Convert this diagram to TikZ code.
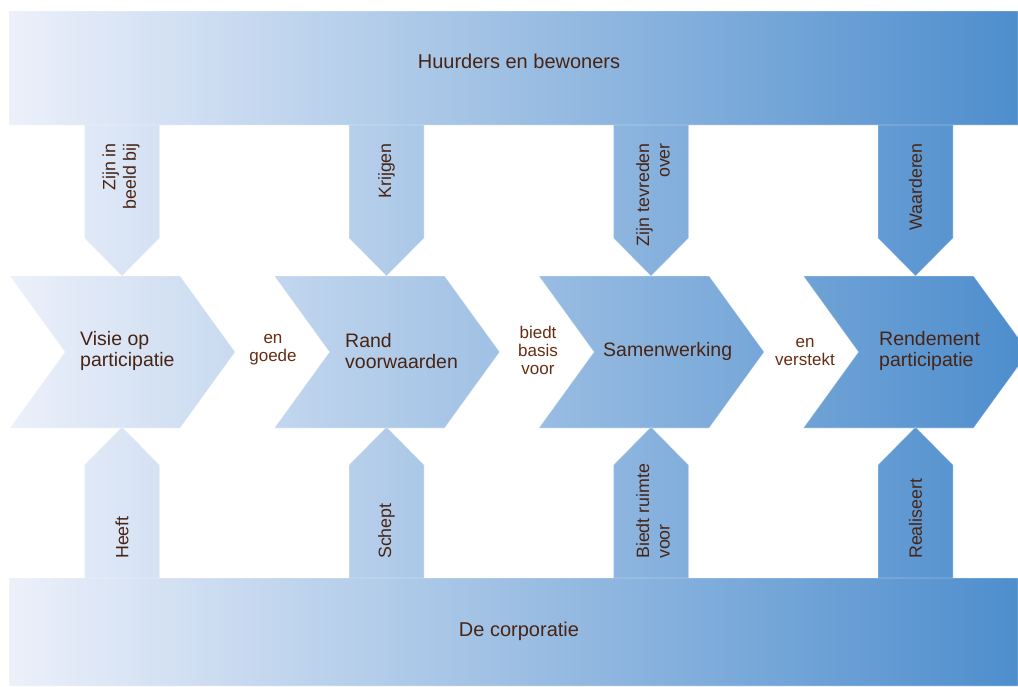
\documentclass[tikz,border=0pt]{standalone}
\usepackage{fontspec}
\setmainfont{Liberation Sans}
\definecolor{gl}{RGB}{236,240,250}
\definecolor{gr}{RGB}{78,142,205}
\definecolor{titlebrown}{RGB}{72,36,20}
\definecolor{linkbrown}{RGB}{104,44,18}
\begin{document}
\begin{tikzpicture}[x=1pt,y=-1pt,
  bannertext/.style={font=\fontsize{20}{22}\selectfont, text=titlebrown, inner sep=0pt},
  chevtitle/.style={font=\fontsize{19.5}{21}\selectfont, text=titlebrown, align=left, anchor=west, inner sep=0pt},
  linktext/.style={font=\fontsize{17}{18}\selectfont, text=linkbrown, align=center, inner sep=0pt},
  downlabel/.style={font=\fontsize{17.8}{20.5}\selectfont, text=titlebrown, rotate=90, align=right, anchor=east, inner sep=0pt},
  uplabel/.style={font=\fontsize{17.8}{20.5}\selectfont, text=titlebrown, rotate=90, align=left, anchor=west, inner sep=0pt},
  edgeline/.style={draw=white, draw opacity=0.35, line width=0.6pt}
]
\useasboundingbox (0,0) rectangle (1018,686);
\begin{scope}
\path[clip] (9,11) rectangle (1018,125) (9,578) rectangle (1018,686)
  \foreach \L in {10,274.5,539,803.5} {
    (\L,276) -- ++(170,0) -- ++(55,76) -- ++(-55,76) -- ++(-170,0) -- ++(55,-76) -- cycle
    (\L+74.5,125) -- ++(75,0) -- ++(0,113) -- ++(-37.5,38) -- ++(-37.5,-38) -- cycle
    (\L+74.5,578) -- ++(0,-113) -- ++(37.5,-38) -- ++(37.5,38) -- ++(0,113) -- cycle };
\shade[left color=gl, right color=gr] (9,0) rectangle (1018,686);
\path[edgeline] (9,11) rectangle (1018,125) (9,578) rectangle (1018,686)
  \foreach \L in {10,274.5,539,803.5} {
    (\L,276) -- ++(170,0) -- ++(55,76) -- ++(-55,76) -- ++(-170,0) -- ++(55,-76) -- cycle
    (\L+74.5,125) -- ++(75,0) -- ++(0,113) -- ++(-37.5,38) -- ++(-37.5,-38) -- cycle
    (\L+74.5,578) -- ++(0,-113) -- ++(37.5,-38) -- ++(37.5,38) -- ++(0,113) -- cycle };
\end{scope}

\node[bannertext] (hb) at (519,61) {Huurders en bewoners};
\node[bannertext] (corp) at (519,631) {De corporatie};

\node[chevtitle] (c1) at (80,351) {Visie op\\participatie};
\node[chevtitle] (c2) at (345,351) {Rand\\voorwaarden};
\node[chevtitle] (c3) at (603,351) {Samenwerking};
\node[chevtitle] (c4) at (879,351) {Rendement\\participatie};

\node[linktext] (l1) at (273,350) {en\\goede};
\node[linktext] (l2) at (538,350) {biedt\\basis\\voor};
\node[linktext] (l3) at (805,352) {en\\verstekt};

\node[downlabel] (d1) at (121,143) {Zijn in\\beeld bij};
\node[downlabel] (d2) at (386.5,143) {Krijgen};
\node[downlabel] (d3) at (653,143) {Zijn tevreden\\over};
\node[downlabel] (d4) at (915.5,143) {Waarderen};

\node[uplabel] (u1) at (122,559) {Heeft};
\node[uplabel] (u2) at (386.5,559) {Schept};
\node[uplabel] (u3) at (653,559) {Biedt ruimte\\voor};
\node[uplabel] (u4) at (915.5,559) {Realiseert};
\end{tikzpicture}
\end{document}
